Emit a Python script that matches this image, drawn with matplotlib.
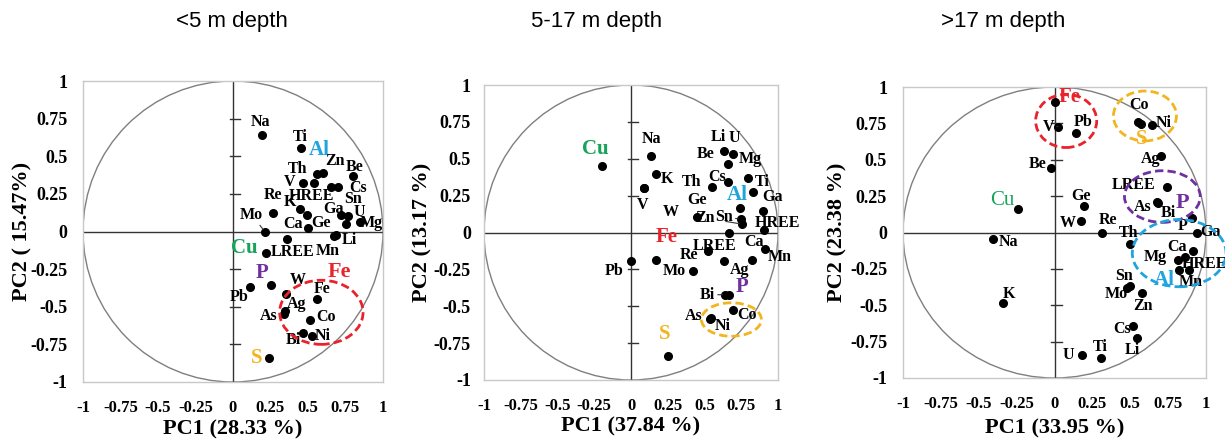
import matplotlib
matplotlib.use('Agg')
import matplotlib.pyplot as plt
from matplotlib.patches import Ellipse
import numpy as np

# ---------------- data ----------------
# <5 m depth
names_a = ['Na', 'Ti', 'Al', 'Th', 'Zn', 'Be', 'V', 'HREE', 'Cs', 'Re', 'K', 'Mo', 'Ca', 'Ge',
           'Ga', 'Sn', 'U', 'Mg', 'Li', 'Mn', 'LREE', 'Cu', 'P', 'Pb', 'W', 'Fe', 'Ag', 'As',
           'Co', 'Bi', 'Ni', 'S']
pc1_a = [0.193, 0.451, 0.656, 0.562, 0.600, 0.800, 0.467, 0.538, 0.700, 0.267, 0.444, 0.211, 0.498, 0.496,
         0.722, 0.769, 0.751, 0.844, 0.685, 0.675, 0.360, 0.222, 0.251, 0.116, 0.356, 0.562, 0.347, 0.338,
         0.516, 0.467, 0.527, 0.238]
pc2_a = [0.643, 0.554, 0.295, 0.384, 0.388, 0.366, 0.321, 0.321, 0.295, 0.122, 0.151, 0.000, 0.022, 0.111,
         0.111, 0.100, 0.051, 0.062, -0.020, -0.030, -0.049, -0.144, -0.355, -0.370, -0.417, -0.448, -0.530, -0.548,
         -0.587, -0.672, -0.694, -0.843]

# 5-17 m depth
names_b = ['Cu', 'Na', 'K', 'V', 'W', 'Li', 'U', 'Be', 'Mg', 'Cs', 'Th', 'Ti', 'Al', 'Ga', 'Ge', 'Sn',
           'Zn', 'LREE', 'HREE', 'Mn', 'Ca', 'Ag', 'Re', 'Fe', 'Pb', 'Mo', 'Bi', 'P', 'Co', 'As', 'Ni', 'S']
pc1_b = [-0.200, 0.138, 0.172, 0.091, 0.091, 0.635, 0.696, 0.658, 0.794, 0.662, 0.551, 0.830, 0.739, 0.898, 0.451, 0.748,
         0.755, 0.667, 0.902, 0.914, 0.823, 0.630, 0.524, 0.168, 0.000, 0.420, 0.642, 0.664, 0.694, 0.535, 0.545, 0.249]
pc2_b = [0.454, 0.519, 0.399, 0.304, 0.304, 0.553, 0.531, 0.463, 0.367, 0.345, 0.306, 0.277, 0.163, 0.147, 0.102, 0.091,
         0.057, 0.000, 0.016, -0.113, -0.184, -0.190, -0.127, -0.184, -0.190, -0.261, -0.422, -0.422, -0.528, -0.585, -0.580, -0.834]

# >17 m depth
names_c = ['Fe', 'V', 'Pb', 'Co', 'S', 'Ni', 'Ag', 'Be', 'LREE', 'As', 'Bi', 'Ge', 'Cu', 'W', 'Re', 'P',
           'Ga', 'Na', 'Th', 'Ca', 'HREE', 'Mg', 'Al', 'Mn', 'Sn', 'Mo', 'Zn', 'K', 'Cs', 'Li', 'U', 'Ti']
pc1_c = [0.004, 0.024, 0.144, 0.553, 0.573, 0.642, 0.701, -0.024, 0.741, 0.675, 0.680, 0.192, -0.239, 0.177, 0.314, 0.907,
         0.940, -0.409, 0.498, 0.916, 0.863, 0.812, 0.823, 0.889, 0.480, 0.498, 0.575, -0.338, 0.520, 0.542, 0.181, 0.308]
pc2_c = [0.895, 0.728, 0.682, 0.757, 0.746, 0.739, 0.526, 0.442, 0.311, 0.213, 0.205, 0.183, 0.160, 0.080, 0.000, 0.098,
         0.000, -0.043, -0.080, -0.124, -0.165, -0.188, -0.256, -0.261, -0.382, -0.371, -0.416, -0.485, -0.645, -0.725, -0.840, -0.863]

titles = ['<5 m depth', '5-17 m depth', '>17 m depth']
xlabels = ['PC1 (28.33 %)', 'PC1 (37.84 %)', 'PC1 (33.95 %)']
ylabels = ['PC2 ( 15.47%)', 'PC2 (13.17 %)', 'PC2 (23.38 %)']

# ---------------- layout / styling ----------------
RED = '#e8232b'
ORANGE = '#f2b520'
BLUE = '#1fa4e0'
GREEN = '#17a35a'
PURPLE = '#7030a0'
label_colors = [
    {'Cu': GREEN, 'Al': BLUE, 'P': PURPLE, 'S': ORANGE},
    {'Cu': GREEN, 'Al': BLUE, 'P': PURPLE, 'S': ORANGE, 'Fe': RED},
    {'Cu': GREEN, 'Al': BLUE, 'S': ORANGE, 'Fe': RED},
]

# label offsets in pixels (label centre relative to the point)
offs_a = {'Na': (-1, 13), 'Ti': (0, 11), 'Al': (-12, 37), 'Th': (-20, 5), 'Zn': (12, 12), 'Be': (2, 9),
          'V': (-13, 1), 'HREE': (-2, -13), 'Cs': (20, -1), 'Re': (0, 18), 'K': (-10, 7), 'Mo': (-13, 17),
          'Ca': (-15, 4), 'Ge': (14, -8), 'Ga': (-8, 6), 'Sn': (5, 17), 'U': (14, 12), 'Mg': (12, -1),
          'Li': (14, -5), 'Mn': (-7, -15), 'LREE': (6, -13), 'Cu': (-22, 5), 'P': (-9, 12), 'Pb': (-11, -10),
          'W': (11, 14), 'Fe': (5, 10), 'Ag': (12, 7), 'As': (-15, -2), 'Co': (16, 3), 'Bi': (-10, -7),
          'Ni': (11, 0), 'S': (-12, 0)}
offs_b = {'Cu': (-6, 17), 'Na': (0, 17), 'K': (11, -5), 'V': (-2, -17), 'W': (26, -24), 'Li': (-6, 14),
          'U': (1, 16), 'Be': (-22, 10), 'Mg': (3, 19), 'Cs': (-11, 5), 'Th': (-20, 5), 'Ti': (9, 10),
          'Al': (-2, 13), 'Ga': (9, 14), 'Ge': (0, 17), 'Sn': (-17, 2), 'Zn': (-37, 6), 'LREE': (-14, -13),
          'HREE': (14, 7), 'Mn': (14, -8), 'Ca': (2, 18), 'Ag': (16, -9), 'Re': (-19, -4), 'Fe': (11, 23),
          'Pb': (-17, -10), 'Mo': (-18, 0), 'Bi': (-18, 0), 'P': (13, 8), 'Co': (14, -5), 'As': (-16, 3),
          'Ni': (12, -8), 'S': (-3, 22)}
offs_c = {'Fe': (15, 5), 'V': (-10, 0), 'Pb': (7, 11), 'Co': (1, 17), 'S': (0, -15), 'Ni': (12, 2),
          'Ag': (-10, -3), 'Be': (-13, 4), 'LREE': (-33, 2), 'As': (-14, -5), 'Bi': (11, -10), 'Ge': (-3, 10),
          'Cu': (-16, 9), 'W': (-14, -2), 'Re': (6, 12), 'P': (-9, -8), 'Ga': (14, 0), 'Na': (16, -3),
          'Th': (-1, 11), 'Ca': (-16, 4), 'HREE': (19, -7), 'Mg': (-22, 3), 'Al': (-15, -10), 'Mn': (2, -12),
          'Sn': (-3, 12), 'Mo': (-14, -8), 'Zn': (1, -13), 'K': (6, 9), 'Cs': (-11, -3), 'Li': (-4, -12),
          'U': (-14, 0), 'Ti': (-1, 11)}
leaders = [{'Mo', 'Cs'}, {'Sn', 'Zn', 'Bi'}, {'V'}]

# ellipses: (x, y, width, height, colour)
ellipses = [
    [(0.589, -0.537, 0.556, 0.426, RED)],
    [(0.683, -0.590, 0.408, 0.227, ORANGE)],
    [(0.077, 0.767, 0.403, 0.366, RED), (0.597, 0.801, 0.416, 0.343, ORANGE),
     (0.712, 0.247, 0.500, 0.355, PURPLE), (0.823, -0.142, 0.619, 0.462, BLUE)],
]
group_labels = [[('Fe', 0.711, -0.266, RED)], [], [('P', 0.845, 0.201, PURPLE)]]

axes_pos = [[83, 81, 300, 301], [484, 85, 294, 295], [903, 87, 303, 291]]
title_x = [232, 597, 1003]
ylab_x = [22, 422, 837]
xlab_y = [429, 426, 428]
ytick_pad = [11, 9.5, 11.5]

W, H = 1225, 445
fig = plt.figure(figsize=(W / 100, H / 100), dpi=100)
serif = 'Liberation Serif'

panels = [(names_a, pc1_a, pc2_a, offs_a), (names_b, pc1_b, pc2_b, offs_b), (names_c, pc1_c, pc2_c, offs_c)]
ticks = np.arange(-1, 1.01, 0.25)
tick_labels = ['-1', '-0.75', '-0.5', '-0.25', '0', '0.25', '0.5', '0.75', '1']

for i, (names, xs, ys, offs) in enumerate(panels):
    l, t, w, h = axes_pos[i]
    ax = fig.add_axes([l / W, 1 - (t + h) / H, w / W, h / H])
    ax.set_xlim(-1, 1)
    ax.set_ylim(-1, 1)
    for s in ax.spines.values():
        s.set_color('#c8c8c8')
        s.set_linewidth(1.0)
    ax.set_xticks(ticks)
    ax.set_yticks(ticks)
    ax.set_xticklabels(tick_labels)
    ax.set_yticklabels(tick_labels)
    ax.tick_params(length=0)
    ax.tick_params(axis='x', pad=13, labelsize=12)
    ax.tick_params(axis='y', pad=ytick_pad[i], labelsize=13)
    for lab in ax.get_xticklabels() + ax.get_yticklabels():
        lab.set_fontfamily(serif)
        lab.set_fontweight('bold')

    # unit circle and centre axes
    ax.add_patch(Ellipse((0, 0), 2, 2, fill=False, ec='#7f7f7f', lw=1.0))
    ax.axhline(0, color='#333333', lw=1.0)
    ax.axvline(0, color='#333333', lw=1.0)
    for tv in ticks:
        if abs(tv) < 0.9 and tv != 0:
            ax.plot([-0.02, 0.05], [tv, tv], color='#333333', lw=1.0)

    ax.plot(xs, ys, 'o', color='black', ms=5.5, zorder=4)

    cols = label_colors[i]
    for n, x, y in zip(names, xs, ys):
        dx, dy = offs[n]
        col = cols.get(n, 'black')
        fs = 15 if n in cols else 11.5
        fw = 'normal' if (i == 2 and n == 'Cu') else 'bold'
        kw = {}
        if n in leaders[i]:
            kw['arrowprops'] = dict(arrowstyle='-', lw=0.8, color='#333333', shrinkA=6, shrinkB=2)
        ax.annotate(n, (x, y), xytext=(dx * 0.72, dy * 0.72), textcoords='offset points',
                    ha='center', va='center', fontsize=fs, color=col, fontfamily=serif,
                    fontweight=fw, zorder=5, annotation_clip=False, **kw)

    for (ex, ey, ew, eh, ec) in ellipses[i]:
        ax.add_patch(Ellipse((ex, ey), ew, eh, fill=False, ec=ec, lw=2, ls=(0, (3, 1.5)),
                             clip_on=False, zorder=6))
    for (gt, gx, gy, gc) in group_labels[i]:
        ax.text(gx, gy, gt, ha='center', va='center', fontsize=16, color=gc,
                fontfamily=serif, fontweight='bold', zorder=6)

    fig.text((l + w / 2) / W, 1 - xlab_y[i] / H, xlabels[i], ha='center', va='center',
             fontsize=16, fontfamily=serif, fontweight='bold')
    fig.text(ylab_x[i] / W, 1 - (t + h / 2) / H, ylabels[i], ha='center', va='center',
             rotation=90, fontsize=16, fontfamily=serif, fontweight='bold')

    fig.text(title_x[i] / W, 1 - 22 / H, titles[i], ha='center', va='center',
             fontsize=16, fontfamily='Liberation Sans')

fig.savefig('out.png', dpi=100)
